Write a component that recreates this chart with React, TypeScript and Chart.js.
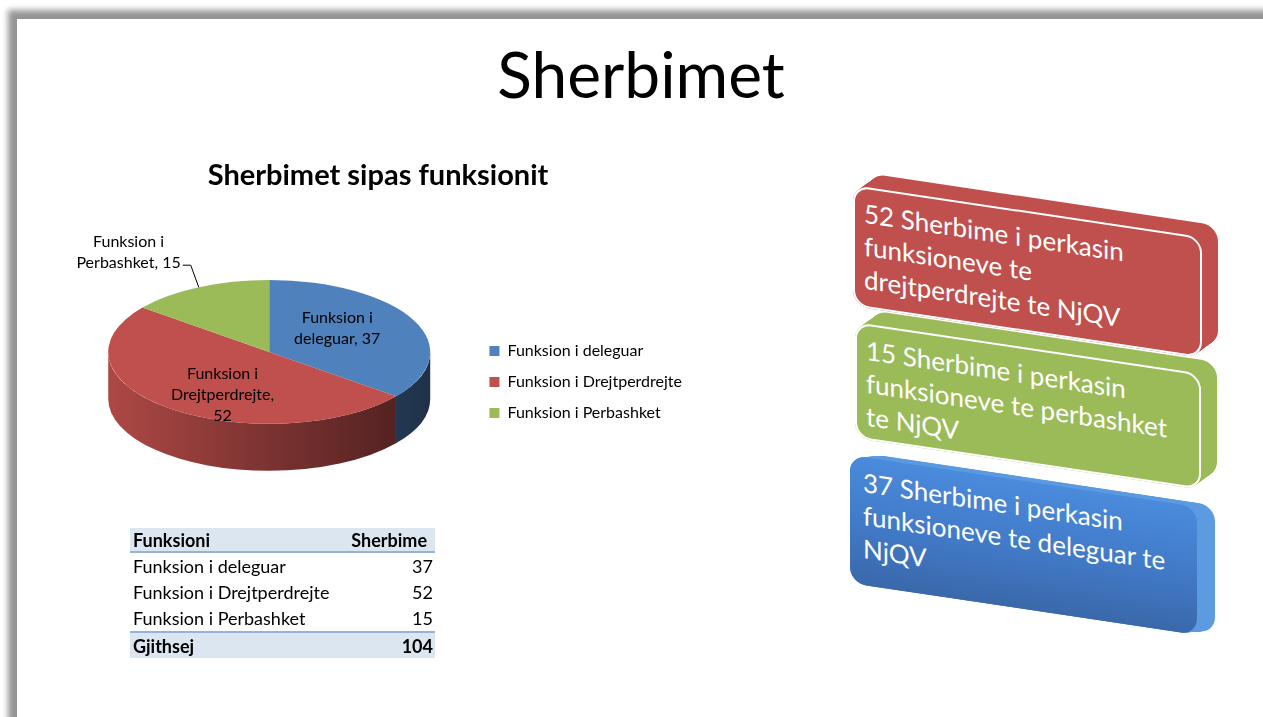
import React, { useEffect, useRef } from "react";
import { Chart, registerables } from "chart.js";

Chart.register(...registerables);

// ---- data ----
const categories = ["Funksion i deleguar", "Funksion i Drejtperdrejte", "Funksion i Perbashket"];
const serviceCounts = [37, 52, 15];
const sliceColors = ["#4F81BD", "#C0504D", "#9BBB59"];
const pageTitle = "Sherbimet";
const chartTitle = "Sherbimet sipas funksionit";
const tableHeaders = ["Funksioni", "Sherbime"];
const totalLabel = "Gjithsej";
const blockLines = [
  ["37 Sherbime i perkasin", "funksioneve te deleguar te", "NjQV"],
  ["52 Sherbime i perkasin", "funksioneve te", "drejtperdrejte te NjQV"],
  ["15 Sherbime i perkasin", "funksioneve te perbashket", "te NjQV"],
];

const FONT = "Lato, 'Open Sans', sans-serif";
const SQUASH = 0.447;
const DEPTH = 47;

function shade(hex: string, f: number) {
  const n = parseInt(hex.slice(1), 16);
  const r = Math.round(((n >> 16) & 255) * f);
  const g = Math.round(((n >> 8) & 255) * f);
  const b = Math.round((n & 255) * f);
  return `rgb(${r},${g},${b})`;
}

function wrap(ctx: CanvasRenderingContext2D, text: string, maxW: number) {
  const words = text.split(" ");
  const lines: string[] = [];
  let cur = "";
  for (const w of words) {
    const test = cur ? cur + " " + w : w;
    if (cur && ctx.measureText(test).width > maxW) {
      lines.push(cur);
      cur = w;
    } else cur = test;
  }
  if (cur) lines.push(cur);
  return lines;
}

const pie3d = {
  id: "pie3d",
  beforeDatasetsDraw(chart: any) {
    const meta = chart.getDatasetMeta(0);
    const arcs = meta.data;
    const ctx: CanvasRenderingContext2D = chart.ctx;
    if (!arcs.length) return;
    const cx = arcs[0].x, cy = arcs[0].y, R = arcs[0].outerRadius;
    const ry = R * SQUASH;
    const top = cy - DEPTH / 2;
    ctx.save();
    arcs.forEach((arc: any, i: number) => {
      const a1 = arc.startAngle, a2 = arc.endAngle;
      for (const off of [0, 2 * Math.PI, -2 * Math.PI]) {
        const s = Math.max(a1, off), e = Math.min(a2, off + Math.PI);
        if (e <= s) continue;
        const ss = s - off, ee = e - off;
        ctx.beginPath();
        ctx.ellipse(cx, top, R, ry, 0, ss, ee);
        ctx.lineTo(cx + R * Math.cos(ee), top + ry * Math.sin(ee) + DEPTH);
        ctx.ellipse(cx, top + DEPTH, R, ry, 0, ee, ss, true);
        ctx.closePath();
        const g = ctx.createLinearGradient(cx - R, 0, cx + R, 0);
        g.addColorStop(0, shade(sliceColors[i], 0.9));
        g.addColorStop(1, shade(sliceColors[i], 0.38));
        ctx.fillStyle = g;
        ctx.fill();
      }
    });
    ctx.restore();
    ctx.save();
    ctx.translate(cx, top);
    ctx.scale(1, SQUASH);
    ctx.translate(-cx, -cy);
  },
  afterDatasetsDraw(chart: any) {
    const ctx: CanvasRenderingContext2D = chart.ctx;
    ctx.restore();
    const meta = chart.getDatasetMeta(0);
    const arcs = meta.data;
    if (!arcs.length) return;
    const cx = arcs[0].x, cy = arcs[0].y, R = arcs[0].outerRadius;
    const ry = R * SQUASH;
    const top = cy - DEPTH / 2;
    ctx.save();
    ctx.font = `16px ${FONT}`;
    ctx.fillStyle = "#000";
    ctx.textBaseline = "middle";
    ctx.textAlign = "center";
    const lh = 21;
    arcs.forEach((arc: any, i: number) => {
      const m = (arc.startAngle + arc.endAngle) / 2;
      const frac = (arc.endAngle - arc.startAngle) / (2 * Math.PI);
      const lines = wrap(ctx, `${categories[i]}, ${serviceCounts[i]}`, 114);
      if (frac >= 0.2) {
        const lx = cx + R * 0.47 * Math.cos(m);
        const ly = top + ry * 0.75 * Math.sin(m);
        const y0 = ly - ((lines.length - 1) * lh) / 2;
        lines.forEach((t, j) => ctx.fillText(t, lx, y0 + j * lh));
      } else {
        const ex = cx + R * Math.cos(m);
        const ey = top + ry * Math.sin(m);
        const bx = ex - 8, by = ey - 22;
        const hx = bx - 8;
        ctx.strokeStyle = "#000";
        ctx.lineWidth = 1;
        ctx.beginPath();
        ctx.moveTo(ex, ey);
        ctx.lineTo(bx, by);
        ctx.lineTo(hx, by);
        ctx.stroke();
        const maxW = Math.max(...lines.map((t) => ctx.measureText(t).width));
        const tx = hx - 2 - maxW / 2;
        const y0 = by - 2 - (lines.length - 1) * lh;
        lines.forEach((t, j) => ctx.fillText(t, tx, y0 + j * lh));
      }
    });
    ctx.restore();
  },
};

const blockGeo = [
  { left: 850, top: 455, w: 347, h: 128 },
  { left: 853, top: 185, w: 349, h: 121 },
  { left: 855, top: 322, w: 346, h: 116 },
];

function Block({ idx }: { idx: number }) {
  const g = blockGeo[idx];
  const c = sliceColors[idx];
  const isBlue = idx === 0;
  const frontBg = isBlue ? "linear-gradient(180deg, #4A8BDC 0%, #4179C6 55%, #3A68AA 100%)" : c;
  const sideColor = isBlue ? "#5C9BE0" : c;
  const shadows: string[] = [];
  const dyPer = isBlue ? 4 / 18 : 14 / 16;
  const n = isBlue ? 18 : 16;
  for (let k = 1; k <= n; k++) shadows.push(`${k}px ${-(k * dyPer)}px 0 ${sideColor}`);
  return (
    <div
      style={{
        position: "absolute",
        left: g.left,
        top: g.top,
        width: g.w,
        height: g.h,
        transform: "skewY(8.5deg)",
        transformOrigin: "0 0",
      }}
    >
      <div
        style={{
          position: "absolute",
          inset: 0,
          borderRadius: 16,
          background: sideColor,
          boxShadow: shadows.join(","),
        }}
      />
      <div
        style={{
          position: "absolute",
          inset: 0,
          boxSizing: "border-box",
          borderRadius: 16,
          background: frontBg,
          border: isBlue ? "none" : "2px solid #fff",
          color: "#fff",
          fontFamily: FONT,
          fontSize: 26,
          lineHeight: "33px",
          padding: isBlue ? "9px 0 0 13px" : "8px 0 0 9px",
          whiteSpace: "nowrap",
        }}
      >
        {blockLines[idx].map((t, j) => (
          <div key={j}>{t}</div>
        ))}
      </div>
    </div>
  );
}

export default function App() {
  const ref = useRef<HTMLCanvasElement>(null);
  useEffect(() => {
    const chart = new Chart(ref.current!, {
      type: "pie",
      data: {
        labels: categories,
        datasets: [
          {
            data: serviceCounts,
            backgroundColor: sliceColors,
            borderWidth: 0,
            radius: 161,
            clip: false,
          } as any,
        ],
      },
      options: {
        responsive: false,
        animation: false,
        events: [],
        radius: 161,
        layout: { padding: { left: 4, right: 8, top: 0, bottom: 14 } },
        plugins: {
          title: {
            display: true,
            text: chartTitle,
            color: "#000",
            font: { family: FONT, size: 29, weight: "bold" },
            padding: { top: 8, bottom: 12 },
          },
          legend: {
            position: "right",
            align: "center",
            fullSize: false,
            title: { display: true, text: "", font: { size: 10 }, padding: { top: 0, bottom: 1 } },
            labels: {
              boxWidth: 10,
              boxHeight: 10,
              padding: 15,
              color: "#000",
              font: { family: FONT, size: 16 },
            },
          },
          tooltip: { enabled: false },
        },
      } as any,
      plugins: [pie3d],
    });
    return () => chart.destroy();
  }, []);

  const total = serviceCounts.reduce((a, b) => a + b, 0);
  const cell: React.CSSProperties = { padding: "0 2px 0 3px", height: 26 };

  return (
    <div
      style={{
        position: "fixed",
        left: 0,
        top: 0,
        width: 1263,
        height: 717,
        background: "#fff",
        overflow: "hidden",
        fontFamily: FONT,
      }}
    >
      <div
        style={{
          position: "absolute",
          left: 17,
          top: 19,
          width: 1400,
          height: 900,
          background: "#fff",
          boxShadow: "-4px -4px 6px 5px rgba(0,0,0,0.42)",
        }}
      />
      <div
        style={{
          position: "absolute",
          left: 19,
          width: 1244,
          top: 42,
          textAlign: "center",
          fontSize: 64,
          lineHeight: 1,
          color: "#000",
        }}
      >
        {pageTitle}
      </div>
      <canvas
        ref={ref}
        width={640}
        height={410}
        style={{ position: "absolute", left: 60, top: 150, width: 640, height: 410 }}
      />
      <table
        style={{
          position: "absolute",
          left: 130,
          top: 528,
          width: 305,
          borderCollapse: "collapse",
          fontSize: 18,
          color: "#000",
          fontFamily: FONT,
        }}
      >
        <tbody>
          <tr style={{ background: "#DCE6F1", borderBottom: "2px solid #95B3D7" }}>
            <td style={{ ...cell, height: 23, fontWeight: "bold" }}>{tableHeaders[0]}</td>
            <td style={{ ...cell, height: 23, fontWeight: "bold", textAlign: "right", paddingRight: 8 }}>
              {tableHeaders[1]}
            </td>
          </tr>
          {categories.map((c, i) => (
            <tr key={c}>
              <td style={cell}>{c}</td>
              <td style={{ ...cell, textAlign: "right" }}>{serviceCounts[i]}</td>
            </tr>
          ))}
          <tr style={{ background: "#DCE6F1", borderTop: "2px solid #95B3D7" }}>
            <td style={{ ...cell, height: 25, fontWeight: "bold" }}>{totalLabel}</td>
            <td style={{ ...cell, height: 25, fontWeight: "bold", textAlign: "right" }}>{total}</td>
          </tr>
        </tbody>
      </table>
      <Block idx={0} />
      <Block idx={2} />
      <Block idx={1} />
    </div>
  );
}
